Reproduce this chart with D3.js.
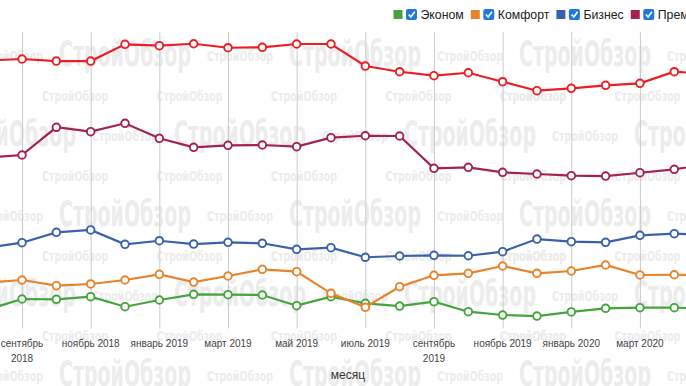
<!DOCTYPE html>
<html>
<head>
<meta charset="utf-8">
<script src="https://cdn.jsdelivr.net/npm/d3@7"></script>
<style>
  body { margin: 0; background: #fff; }
  svg { display: block; font-family: Arial, "Liberation Sans", sans-serif; }
</style>
</head>
<body>
<div id="chart"></div>
<script>
var months = ['август 2018', 'сентябрь 2018', 'октябрь 2018', 'ноябрь 2018', 'декабрь 2018',
  'январь 2019', 'февраль 2019', 'март 2019', 'апрель 2019', 'май 2019', 'июнь 2019',
  'июль 2019', 'август 2019', 'сентябрь 2019', 'октябрь 2019', 'ноябрь 2019', 'декабрь 2019',
  'январь 2020', 'февраль 2020', 'март 2020', 'апрель 2020', 'май 2020'];
var tickMonths = ['сентябрь 2018', 'ноябрь 2018', 'январь 2019', 'март 2019', 'май 2019',
  'июль 2019', 'сентябрь 2019', 'ноябрь 2019', 'январь 2020', 'март 2020', 'май 2020'];
var yTicks = [0, 50, 100, 150, 200, 250, 300, 350];

var econom  = [22.4, 34.8, 34.4, 37.5, 25.7, 33.6, 40.3, 39.9, 39.5, 26.9, 37.5, 29.7, 26.5, 31.6, 19.8, 15.9, 14.7, 19.5, 23.8, 24.5, 24.5, 23.6];
var komfort = [54.2, 57.2, 50.5, 52.5, 57.2, 63.9, 54.8, 61.9, 69.8, 67.0, 41.5, 25.0, 49.3, 62.7, 65.1, 73.7, 65.1, 67.8, 74.9, 63.1, 63.4, 63.1];
var biznes  = [95.2, 101.2, 113.4, 116.2, 99.3, 103.5, 99.6, 101.6, 100.5, 93.4, 95.3, 84.0, 85.5, 86.3, 85.8, 90.6, 105.5, 102.4, 101.6, 109.9, 111.8, 110.3];
var premium = [201.6, 204.6, 237.3, 232.1, 242.0, 224.3, 213.7, 216.0, 216.4, 214.4, 225.0, 227.3, 227.0, 188.9, 190.1, 184.2, 182.2, 180.2, 179.8, 183.7, 187.7, 194.0];
var elite   = [316.0, 317.8, 315.4, 315.4, 335.1, 333.5, 335.8, 331.1, 331.6, 335.5, 335.5, 309.5, 302.8, 298.1, 301.6, 291.0, 280.4, 283.2, 286.8, 289.1, 302.8, 300.1];

var seriesNames = ['Эконом', 'Комфорт', 'Бизнес', 'Премиум', 'Элит'];
var seriesColors = ['#45a53c', '#e8832b', '#3a62ab', '#a3234c', '#ec1d25'];
var seriesValues = [econom, komfort, biznes, premium, elite];

var width = 686, height = 386;
var top_ = 31.7, bottom = 328.5;

var svg = d3.select('#chart').append('svg')
  .attr('width', width)
  .attr('height', height);

var x = d3.scalePoint().domain(months).range([-12.3, 708.6]);
var y = d3.scaleLinear().domain([0, 350]).range([bottom, top_]);

// watermark "СтройОбзор" pattern
var wm = svg.append('g').attr('fill', '#ececec')
  .style('font-family', '"Liberation Sans Narrow", "DejaVu Sans Condensed", Arial, sans-serif')
  .style('font-weight', 'bold');
function mark(cx, cy, big) {
  var w = big ? 132 : 66;
  wm.append('text')
    .attr('x', cx - w / 2)
    .attr('y', cy + (big ? 9 : 4))
    .attr('font-size', big ? 36 : 14)
    .attr('textLength', w)
    .attr('lengthAdjust', 'spacingAndGlyphs')
    .text('СтройОбзор');
}
d3.range(9).forEach(function(r) {
  var cy = 57 + r * 40;
  d3.range(-1, 5).forEach(function(k) {
    if (r % 2 === 1) {
      mark(75 + 114.5 * k, cy, false);
      mark(75 + 114.5 * (k + 5), cy, false);
    } else if (r % 4 === 0) {
      mark(125 + 230 * k, cy, true);
      mark(10 + 230 * k, cy, false);
    } else {
      mark(10 + 230 * k, cy, true);
      mark(125 + 230 * k, cy, false);
    }
  });
});

// grid
var gy = svg.append('g')
  .call(d3.axisLeft(y).tickValues(yTicks).tickSize(-width - 40).tickFormat(''))
  .attr('transform', 'translate(' + width + ',0)');
gy.select('.domain').remove();
gy.selectAll('line')
  .attr('transform', 'translate(20,0)')
  .attr('stroke', '#cccccc')
  .attr('stroke-width', function(d) { return (d === 0 || d === 350) ? 2 : 1; });

var gx = svg.append('g')
  .attr('transform', 'translate(0,' + bottom + ')')
  .call(d3.axisBottom(x).tickValues(tickMonths).tickSize(-(bottom - top_)).tickFormat(''));
gx.select('.domain').remove();
gx.selectAll('line').attr('stroke', '#cccccc');

// tick labels, wrapped when too wide
var labels = svg.append('g')
  .attr('font-size', 10)
  .attr('fill', '#444')
  .attr('text-anchor', 'middle');
tickMonths.forEach(function(m) {
  var t = labels.append('text').attr('x', x(m)).attr('y', 346.5).text(m);
  if (t.node().getComputedTextLength() > 60) {
    var parts = m.split(' ');
    t.text(null);
    t.append('tspan').attr('x', x(m)).attr('y', 346.5).text(parts[0]);
    t.append('tspan').attr('x', x(m)).attr('y', 361.5).text(parts[1]);
  }
});

svg.append('text')
  .attr('x', 348)
  .attr('y', 379)
  .attr('text-anchor', 'middle')
  .attr('font-size', 12)
  .attr('fill', '#333')
  .text('месяц');

// series
var line = d3.line()
  .x(function(d, i) { return x(months[i]); })
  .y(function(d) { return y(d); });

seriesValues.forEach(function(vals, s) {
  var g = svg.append('g');
  g.append('path')
    .datum(vals)
    .attr('fill', 'none')
    .attr('stroke', seriesColors[s])
    .attr('stroke-width', 2.2)
    .attr('d', line);
  g.selectAll('circle')
    .data(vals).enter()
    .append('circle')
    .attr('cx', function(d, i) { return x(months[i]); })
    .attr('cy', function(d) { return y(d); })
    .attr('r', 3.8)
    .attr('fill', '#fff')
    .attr('stroke', seriesColors[s])
    .attr('stroke-width', 1.9);
});

// legend with checkboxes
var lx = 393.5;
seriesNames.forEach(function(name, s) {
  var g = svg.append('g').attr('transform', 'translate(' + lx + ',0)');
  g.append('rect')
    .attr('x', 0).attr('y', 10)
    .attr('width', 9).attr('height', 9)
    .attr('fill', seriesColors[s]);
  g.append('rect')
    .attr('x', 12.5).attr('y', 9)
    .attr('width', 11).attr('height', 11)
    .attr('rx', 2)
    .attr('fill', '#1f78e0');
  g.append('path')
    .attr('d', 'M15.2,14.6 L17.4,17 L21.2,11.8')
    .attr('fill', 'none')
    .attr('stroke', '#fff')
    .attr('stroke-width', 1.7);
  var t = g.append('text')
    .attr('x', 27)
    .attr('y', 18.5)
    .attr('font-size', 12.3)
    .attr('fill', '#222')
    .text(name);
  lx += 27 + t.node().getComputedTextLength() + 7;
});
</script>
</body>
</html>
